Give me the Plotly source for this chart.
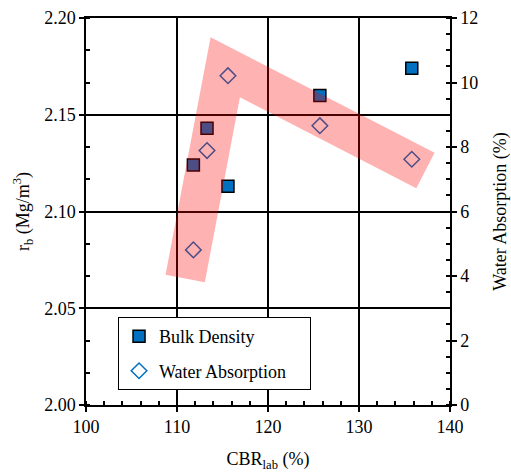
import plotly.graph_objects as go

cbr_bulk = [111.8, 113.3, 115.6, 125.7, 135.8]
bulk_density = [2.124, 2.143, 2.113, 2.160, 2.174]

cbr_water = [111.8, 113.3, 115.6, 125.7, 135.8]
water_absorption = [4.81, 7.89, 10.21, 8.66, 7.62]

band_x = [110.9, 115.3, 137.3]
band_y = [3.92, 10.47, 7.27]

FONT = "Liberation Serif, Times New Roman, serif"
BLUE = "#0070C0"
FS = 18
PAD = "\u00a0" * 4

fig = go.Figure()
fig.add_trace(go.Scatter(
    x=cbr_bulk, y=bulk_density, mode="markers", name="Bulk Density", legendgroup="a",
    marker=dict(symbol="square", size=12, color=BLUE, line=dict(color="black", width=1.5)),
))
fig.add_trace(go.Scatter(
    x=cbr_water, y=water_absorption, mode="markers", name="Water Absorption" + PAD, yaxis="y2",
    legendgroup="b",
    marker=dict(symbol="diamond-open", size=12, color=BLUE, line=dict(color=BLUE, width=1.5)),
))
fig.add_trace(go.Scatter(
    x=band_x, y=band_y, mode="lines", yaxis="y2", showlegend=False, hoverinfo="skip",
    line=dict(color="rgba(255,0,0,0.3)", width=40),
))

axis_common = dict(
    showline=True, linecolor="black", linewidth=1.5,
    ticks="outside", ticklen=5, tickcolor="black", tickwidth=1.5,
    tickfont=dict(family=FONT, size=FS, color="black"),
    zeroline=False, automargin=False,
)

fig.update_layout(
    width=511, height=476,
    margin=dict(l=86, r=61, t=18, b=71),
    plot_bgcolor="white", paper_bgcolor="white",
    font=dict(family=FONT, size=FS, color="black"),
    xaxis=dict(
        range=[100, 140], dtick=10, tick0=100,
        showgrid=True, gridcolor="black", gridwidth=1.5,
        mirror=True,
        minor=dict(dtick=2, ticks="inside", ticklen=4, tickcolor="black", showgrid=False),
        title=dict(text="CBR<sub>lab</sub> (%)", font=dict(family=FONT, size=FS), standoff=16),
        **axis_common,
    ),
    yaxis=dict(
        range=[2.00, 2.20], dtick=0.05, tick0=2.0, tickformat=".2f",
        showgrid=True, gridcolor="black", gridwidth=1.5,
        minor=dict(dtick=0.05/3, tick0=2.0, ticks="inside", ticklen=4, tickcolor="black", showgrid=False),
        title=dict(text="r<sub>b</sub> (Mg/m<sup>3</sup>)", font=dict(family=FONT, size=FS), standoff=10),
        **axis_common,
    ),
    yaxis2=dict(
        range=[0, 12], dtick=2, tick0=0, overlaying="y", side="right",
        showgrid=False,
        minor=dict(dtick=0.5, ticks="inside", ticklen=4, tickcolor="black", showgrid=False),
        title=dict(text="Water Absorption (%)", font=dict(family=FONT, size=FS), standoff=22),
        **axis_common,
    ),
    legend=dict(
        x=0.088, y=0.227, xanchor="left", yanchor="top",
        bgcolor="white", bordercolor="black", borderwidth=1,
        font=dict(family=FONT, size=FS, color="black"),
        itemwidth=30, tracegroupgap=8,
    ),
    showlegend=True,
)

fig.write_html(
    "out.html",
    config={"displayModeBar": False},
    post_script="document.body.style.margin='0';document.body.style.padding='0';",
)
